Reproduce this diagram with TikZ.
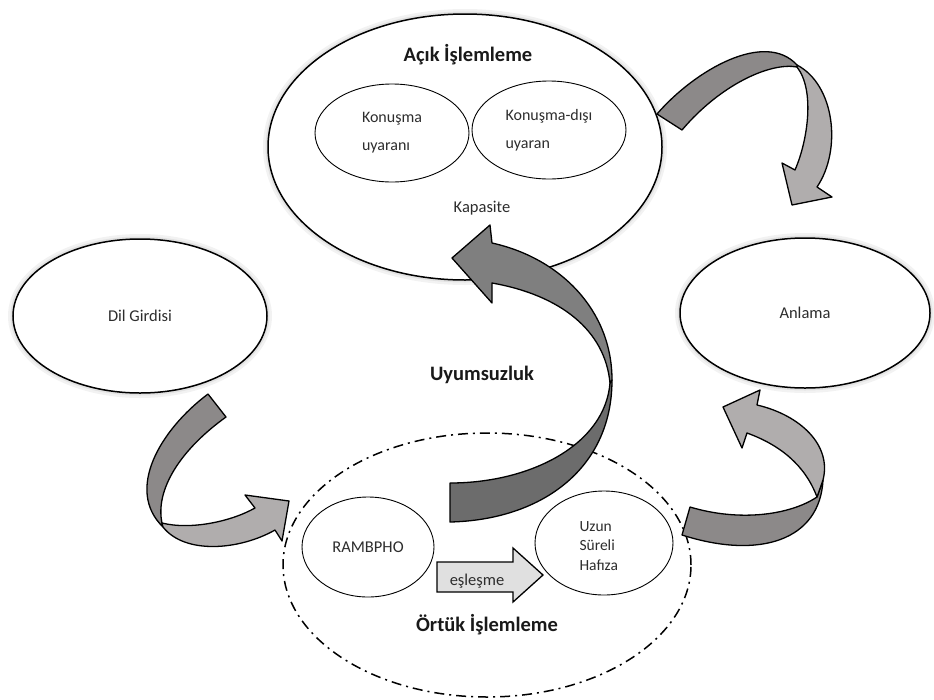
\documentclass[tikz,border=0pt]{standalone}
\usepackage{fontspec}
\setmainfont{Carlito}
\usetikzlibrary{shapes.geometric,positioning}
\definecolor{frontgray}{RGB}{140,137,137}
\definecolor{backgray}{RGB}{176,173,173}
\definecolor{darkfront}{RGB}{108,108,108}
\definecolor{darkback}{RGB}{127,127,127}
\definecolor{txtgray}{RGB}{45,45,45}
\tikzset{blob/.style={ellipse, draw, line width=1.5pt, fill=white, inner sep=0pt,
    text=txtgray, font=\fontsize{16.5}{19}\selectfont},
  glow/.style={preaction={draw=black!5, line width=10pt},
    preaction={draw=black!11, line width=5pt}},
  inner/.style={ellipse, draw, line width=0.9pt, fill=white, inner sep=0pt,
    text=txtgray, align=left, font=\fontsize{16.5}{19}\selectfont},
  txt/.style={text=txtgray, font=\fontsize{16.5}{19}\selectfont},
  title/.style={text=black!90, font=\bfseries\fontsize{20.5}{24}\selectfont},
  ribbon/.style={draw, line width=1.3pt, line join=round}
}

\begin{document}
\begin{tikzpicture}[x=1pt, y=-1pt]
  \useasboundingbox (0,0) rectangle (934,699);

  \node[blob, glow, minimum width=394pt, minimum height=266pt] (acik) at (465,147) {};
  \node[title] (acikT) at (468,55) {Açık İşlemleme};
  \node[inner, minimum width=154pt, minimum height=98pt, font=\fontsize{16}{28}\selectfont] (konusma) at (392,133) {Konuşma\\uyaranı};
  \node[inner, minimum width=154pt, minimum height=98pt, font=\fontsize{16}{28}\selectfont] (disi) at (549,130) {Konuşma-dışı\\uyaran};
  \node[txt] (kapasite) at (482,208) {Kapasite};

  \node[blob, glow, minimum width=254pt, minimum height=154pt] (dil) at (140,316) {Dil Girdisi};
  \node[blob, glow, minimum width=250pt, minimum height=150pt] (anlama) at (805,313) {Anlama};

  \node[ellipse, draw, line width=1.5pt, dash pattern=on 10pt off 5pt on 2pt off 5pt,
    minimum width=408pt, minimum height=264pt] (ortuk) at (487,565) {};
  \node[title] (ortukT) at (487,625) {Örtük İşlemleme};
  \node[title] (uyum) at (482,375) {Uyumsuzluk};

  % acik -> anlama
  \filldraw[ribbon, fill=backgray] (797,65) .. controls (835,85) and (842,150) .. (817,187)
    -- (832,197) -- (792,205) -- (782,163) -- (795,170)
    .. controls (808,140) and (815,90) .. (797,67) -- cycle;
  \filldraw[ribbon, fill=frontgray] (657,114) .. controls (695,70) and (765,30) .. (797,65)
    -- (797,67) .. controls (770,62) and (720,85) .. (682,130) -- cycle;

  % dil -> rambpho
  \filldraw[ribbon, fill=frontgray] (208,394) .. controls (160,430) and (125,490) .. (163,527)
    -- (162,523) .. controls (155,490) and (180,450) .. (226,417) -- cycle;
  \filldraw[ribbon, fill=backgray] (162,523) .. controls (190,530) and (230,522) .. (255,508)
    -- (245,495) -- (289,501) -- (282,541) -- (275,530)
    .. controls (240,550) and (185,555) .. (163,527) -- cycle;

  % uzun -> anlama
  \filldraw[ribbon, fill=frontgray] (690,507) .. controls (740,522) and (790,515) .. (817,497)
    -- (823,480) .. controls (820,540) and (760,560) .. (682,535) -- cycle;
  \filldraw[ribbon, fill=backgray] (823,480) .. controls (832,445) and (800,415) .. (757,405)
    -- (760,390) -- (723,407) -- (742,448) -- (747,433)
    .. controls (780,445) and (805,465) .. (817,497) -- cycle;

  % rambpho -> acik
  \filldraw[ribbon, fill=darkfront] (450,483) -- (450,522)
    .. controls (540,520) and (612,470) .. (612,380)
    -- (610,383) .. controls (605,445) and (530,483) .. (450,483) -- cycle;
  \filldraw[ribbon, fill=darkback] (612,380) .. controls (612,310) and (560,258) .. (492,243)
    -- (490,225) -- (452,258) -- (492,303) -- (492,283)
    .. controls (560,295) and (605,330) .. (610,383) -- cycle;

  \node[inner, minimum width=132pt, minimum height=100pt] (rambpho) at (368,547) {RAMBPHO};
  \node[inner, minimum width=138pt, minimum height=104pt, font=\fontsize{15.5}{19.5}\selectfont] (uzun) at (604,543) {};
  \node[txt, align=left, font=\fontsize{15.5}{19.5}\selectfont, anchor=west] (uzunT) at (576,546) {Uzun\\Süreli\\Hafıza};

  \filldraw[line width=1.3pt, fill=black!12] (437,562) -- (513,562) -- (513,548) -- (543,575)
    -- (513,602) -- (513,592) -- (437,592) -- cycle;
  \node[txt] (esl) at (477,581) {eşleşme};
\end{tikzpicture}
\end{document}
